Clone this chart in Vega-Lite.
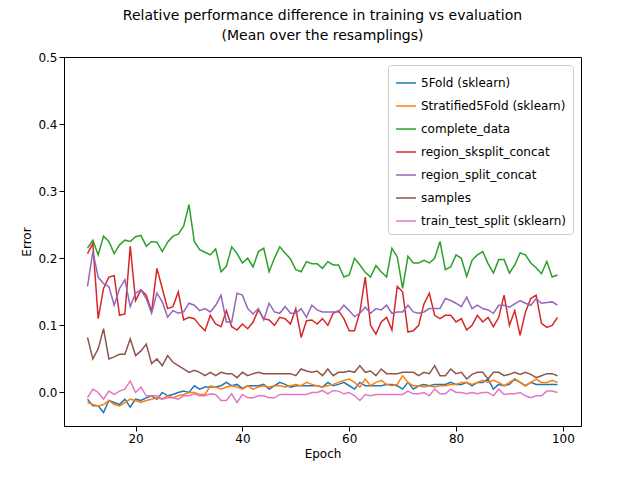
{
  "$schema": "https://vega.github.io/schema/vega-lite/v6.json",
  "width": 517, "height": 369,
  "padding": {"left": 20, "top": 9, "right": 10, "bottom": 5},
  "config": {"font": "DejaVu Sans", "view": {"stroke": "black"}},
  "title": {"text": ["Relative performance difference in training vs evaluation", "(Mean over the resamplings)"], "fontSize": 14, "fontWeight": "normal", "color": "black", "offset": 8, "lineHeight": 20},
  "data": {"values": [
{"e":11,"a":-0.01,"b":-0.015,"c":0.215,"d":0.207,"p":0.158,"s":0.082,"t":-0.008},
{"e":12,"a":-0.02,"b":-0.018,"c":0.227,"d":0.222,"p":0.21,"s":0.05,"t":0.005},
{"e":13,"a":-0.02,"b":-0.02,"c":0.205,"d":0.11,"p":0.172,"s":0.065,"t":0},
{"e":14,"a":-0.03,"b":-0.018,"c":0.233,"d":0.155,"p":0.162,"s":0.095,"t":-0.01},
{"e":15,"a":-0.012,"b":-0.012,"c":0.225,"d":0.172,"p":0.158,"s":0.05,"t":0.002},
{"e":16,"a":-0.015,"b":-0.018,"c":0.207,"d":0.174,"p":0.13,"s":0.053,"t":-0.003},
{"e":17,"a":-0.018,"b":-0.02,"c":0.22,"d":0.115,"p":0.155,"s":0.057,"t":0.002},
{"e":18,"a":-0.01,"b":-0.015,"c":0.227,"d":0.117,"p":0.168,"s":0.057,"t":0.005},
{"e":19,"a":-0.022,"b":-0.01,"c":0.225,"d":0.218,"p":0.128,"s":0.08,"t":0.017},
{"e":20,"a":-0.01,"b":-0.012,"c":0.232,"d":0.137,"p":0.148,"s":0.055,"t":0},
{"e":21,"a":-0.012,"b":-0.015,"c":0.234,"d":0.153,"p":0.153,"s":0.062,"t":0.008},
{"e":22,"a":-0.008,"b":-0.012,"c":0.218,"d":0.145,"p":0.14,"s":0.072,"t":-0.005},
{"e":23,"a":-0.005,"b":-0.01,"c":0.225,"d":0.12,"p":0.118,"s":0.043,"t":-0.005},
{"e":24,"a":-0.01,"b":-0.008,"c":0.224,"d":0.185,"p":0.148,"s":0.05,"t":-0.005},
{"e":25,"a":0,"b":-0.01,"c":0.21,"d":0.155,"p":0.135,"s":0.04,"t":-0.01},
{"e":26,"a":-0.005,"b":-0.005,"c":0.224,"d":0.125,"p":0.112,"s":0.055,"t":-0.008},
{"e":27,"a":-0.003,"b":-0.008,"c":0.233,"d":0.128,"p":0.122,"s":0.045,"t":-0.008},
{"e":28,"a":0,"b":-0.005,"c":0.236,"d":0.15,"p":0.118,"s":0.04,"t":-0.01},
{"e":29,"a":0.002,"b":-0.003,"c":0.248,"d":0.108,"p":0.12,"s":0.035,"t":-0.005},
{"e":30,"a":0,"b":0,"c":0.28,"d":0.112,"p":0.133,"s":0.03,"t":-0.005},
{"e":31,"a":0.01,"b":0,"c":0.225,"d":0.11,"p":0.13,"s":0.033,"t":-0.002},
{"e":32,"a":0.005,"b":-0.003,"c":0.213,"d":0.1,"p":0.122,"s":0.03,"t":-0.005},
{"e":33,"a":0.008,"b":-0.003,"c":0.209,"d":0.092,"p":0.125,"s":0.025,"t":-0.005},
{"e":34,"a":0.008,"b":0.01,"c":0.205,"d":0.115,"p":0.12,"s":0.03,"t":-0.002},
{"e":35,"a":0.008,"b":0.008,"c":0.214,"d":0.102,"p":0.13,"s":0.025,"t":-0.003},
{"e":36,"a":0.01,"b":0.005,"c":0.18,"d":0.098,"p":0.145,"s":0.03,"t":-0.012},
{"e":37,"a":0.015,"b":0.008,"c":0.188,"d":0.122,"p":0.105,"s":0.028,"t":-0.012},
{"e":38,"a":0.01,"b":0.01,"c":0.217,"d":0.098,"p":0.105,"s":0.028,"t":-0.002},
{"e":39,"a":0.012,"b":0.008,"c":0.207,"d":0.093,"p":0.148,"s":0.022,"t":-0.015},
{"e":40,"a":0.006,"b":0.005,"c":0.193,"d":0.102,"p":0.145,"s":0.03,"t":-0.003},
{"e":41,"a":0.01,"b":0.01,"c":0.2,"d":0.095,"p":0.125,"s":0.025,"t":-0.008},
{"e":42,"a":0.01,"b":0.005,"c":0.187,"d":0.105,"p":0.117,"s":0.028,"t":-0.008},
{"e":43,"a":0.01,"b":0.008,"c":0.21,"d":0.123,"p":0.125,"s":0.03,"t":-0.005},
{"e":44,"a":0.012,"b":0.01,"c":0.215,"d":0.11,"p":0.108,"s":0.028,"t":-0.005},
{"e":45,"a":0.005,"b":0.008,"c":0.18,"d":0.108,"p":0.133,"s":0.028,"t":-0.008},
{"e":46,"a":0.01,"b":0.01,"c":0.2,"d":0.1,"p":0.12,"s":0.028,"t":-0.008},
{"e":47,"a":0.015,"b":0.01,"c":0.217,"d":0.112,"p":0.118,"s":0.028,"t":-0.003},
{"e":48,"a":0.012,"b":0.008,"c":0.208,"d":0.11,"p":0.128,"s":0.028,"t":-0.003},
{"e":49,"a":0.008,"b":0.01,"c":0.199,"d":0.102,"p":0.118,"s":0.028,"t":-0.003},
{"e":50,"a":0.01,"b":0.012,"c":0.183,"d":0.125,"p":0.118,"s":0.025,"t":-0.003},
{"e":51,"a":0.01,"b":0.01,"c":0.18,"d":0.082,"p":0.125,"s":0.035,"t":-0.003},
{"e":52,"a":0.01,"b":0.015,"c":0.195,"d":0.107,"p":0.112,"s":0.032,"t":-0.003},
{"e":53,"a":0.01,"b":0.012,"c":0.192,"d":0.108,"p":0.13,"s":0.03,"t":0},
{"e":54,"a":0.01,"b":0.01,"c":0.192,"d":0.102,"p":0.123,"s":0.032,"t":0},
{"e":55,"a":0.008,"b":0.008,"c":0.185,"d":0.11,"p":0.12,"s":0.025,"t":0.003},
{"e":56,"a":0.015,"b":0.01,"c":0.195,"d":0.1,"p":0.12,"s":0.035,"t":-0.002},
{"e":57,"a":0.01,"b":0.012,"c":0.19,"d":0.118,"p":0.12,"s":0.025,"t":0.003},
{"e":58,"a":0.012,"b":0.015,"c":0.19,"d":0.122,"p":0.12,"s":0.03,"t":0.002},
{"e":59,"a":0.015,"b":0.018,"c":0.172,"d":0.11,"p":0.13,"s":0.03,"t":-0.002},
{"e":60,"a":0.01,"b":0.02,"c":0.175,"d":0.092,"p":0.122,"s":0.032,"t":0},
{"e":61,"a":0.005,"b":0.015,"c":0.2,"d":0.092,"p":0.113,"s":0.03,"t":-0.005},
{"e":62,"a":0.015,"b":0.008,"c":0.19,"d":0.12,"p":0.118,"s":0.04,"t":-0.012},
{"e":63,"a":0.01,"b":0.02,"c":0.179,"d":0.172,"p":0.127,"s":0.03,"t":-0.003},
{"e":64,"a":0.01,"b":0.01,"c":0.172,"d":0.1,"p":0.118,"s":0.032,"t":-0.005},
{"e":65,"a":0.01,"b":0.015,"c":0.189,"d":0.087,"p":0.125,"s":0.025,"t":-0.003},
{"e":66,"a":0.01,"b":0.018,"c":0.18,"d":0.105,"p":0.123,"s":0.035,"t":-0.003},
{"e":67,"a":0.012,"b":0.012,"c":0.172,"d":0.112,"p":0.13,"s":0.028,"t":-0.003},
{"e":68,"a":0.012,"b":0.01,"c":0.215,"d":0.093,"p":0.118,"s":0.028,"t":-0.003},
{"e":69,"a":0.01,"b":0.012,"c":0.202,"d":0.158,"p":0.12,"s":0.028,"t":-0.003},
{"e":70,"a":0.005,"b":0.025,"c":0.155,"d":0.15,"p":0.12,"s":0.03,"t":-0.003},
{"e":71,"a":0.015,"b":0.015,"c":0.203,"d":0.09,"p":0.13,"s":0.03,"t":0.002},
{"e":72,"a":0.005,"b":0.01,"c":0.193,"d":0.092,"p":0.12,"s":0.03,"t":-0.002},
{"e":73,"a":0.01,"b":0.01,"c":0.193,"d":0.1,"p":0.118,"s":0.025,"t":-0.002},
{"e":74,"a":0.012,"b":0.008,"c":0.197,"d":0.132,"p":0.12,"s":0.03,"t":0},
{"e":75,"a":0.01,"b":0.01,"c":0.193,"d":0.148,"p":0.125,"s":0.028,"t":-0.005},
{"e":76,"a":0.012,"b":0.008,"c":0.2,"d":0.115,"p":0.125,"s":0.04,"t":0.005},
{"e":77,"a":0.012,"b":0.01,"c":0.225,"d":0.11,"p":0.125,"s":0.025,"t":-0.002},
{"e":78,"a":0.012,"b":0.01,"c":0.183,"d":0.115,"p":0.14,"s":0.025,"t":-0.002},
{"e":79,"a":0.015,"b":0.012,"c":0.187,"d":0.115,"p":0.137,"s":0.035,"t":0.005},
{"e":80,"a":0.012,"b":0.012,"c":0.205,"d":0.105,"p":0.133,"s":0.028,"t":0},
{"e":81,"a":0.012,"b":0.015,"c":0.2,"d":0.11,"p":0.128,"s":0.03,"t":0},
{"e":82,"a":0.015,"b":0.015,"c":0.173,"d":0.093,"p":0.142,"s":0.02,"t":-0.002},
{"e":83,"a":0.01,"b":0.012,"c":0.197,"d":0.1,"p":0.125,"s":0.027,"t":0},
{"e":84,"a":0.015,"b":0.015,"c":0.205,"d":0.115,"p":0.13,"s":0.03,"t":-0.002},
{"e":85,"a":0.015,"b":0.018,"c":0.21,"d":0.105,"p":0.125,"s":0.03,"t":0},
{"e":86,"a":0.02,"b":0.015,"c":0.192,"d":0.112,"p":0.123,"s":0.02,"t":0},
{"e":87,"a":0.005,"b":0.018,"c":0.178,"d":0.098,"p":0.118,"s":0.03,"t":-0.005},
{"e":88,"a":0.012,"b":0.015,"c":0.198,"d":0.112,"p":0.13,"s":0.03,"t":0.005},
{"e":89,"a":0.01,"b":0.01,"c":0.198,"d":0.145,"p":0.13,"s":0.025,"t":-0.003},
{"e":90,"a":0.012,"b":0.015,"c":0.178,"d":0.1,"p":0.127,"s":0.027,"t":-0.002},
{"e":91,"a":0.02,"b":0.02,"c":0.19,"d":0.122,"p":0.132,"s":0.03,"t":-0.002},
{"e":92,"a":0.015,"b":0.015,"c":0.208,"d":0.085,"p":0.137,"s":0.027,"t":0},
{"e":93,"a":0.01,"b":0.01,"c":0.205,"d":0.12,"p":0.133,"s":0.03,"t":-0.005},
{"e":94,"a":0.015,"b":0.015,"c":0.193,"d":0.14,"p":0.13,"s":0.027,"t":-0.008},
{"e":95,"a":0.012,"b":0.02,"c":0.186,"d":0.145,"p":0.14,"s":0.022,"t":-0.005},
{"e":96,"a":0.012,"b":0.015,"c":0.177,"d":0.103,"p":0.133,"s":0.025,"t":-0.005},
{"e":97,"a":0.012,"b":0.015,"c":0.195,"d":0.097,"p":0.134,"s":0.028,"t":0.002},
{"e":98,"a":0.012,"b":0.018,"c":0.172,"d":0.1,"p":0.135,"s":0.028,"t":0.002},
{"e":99,"a":0.012,"b":0.015,"c":0.175,"d":0.112,"p":0.13,"s":0.025,"t":0}
  ]},
  "transform": [{"fold": ["a", "b", "c", "d", "p", "s", "t"], "as": ["series", "value"]}],
  "mark": {"type": "line", "strokeWidth": 1.5},
  "encoding": {
    "x": {"field": "e", "type": "quantitative", "title": "Epoch",
      "scale": {"domain": [6.6, 103.4], "nice": false, "zero": false},
      "axis": {"values": [20, 40, 60, 80, 100], "grid": false, "labelFontSize": 12, "titleFontSize": 12, "titleFontWeight": "normal", "labelColor": "black", "titleColor": "black", "domainColor": "black", "tickColor": "black", "labelFlush": false}},
    "y": {"field": "value", "type": "quantitative", "title": "Error",
      "scale": {"domain": [-0.05, 0.5], "nice": false},
      "axis": {"values": [0, 0.1, 0.2, 0.3, 0.4, 0.5], "format": ".1f", "grid": false, "labelFontSize": 12, "titleFontSize": 12, "titleFontWeight": "normal", "labelColor": "black", "titleColor": "black", "domainColor": "black", "tickColor": "black", "labelFlush": false}},
    "color": {"field": "series", "type": "nominal",
      "scale": {"domain": ["a", "b", "c", "d", "p", "s", "t"], "range": ["#1f77b4", "#ff7f0e", "#2ca02c", "#d62728", "#9467bd", "#8c564b", "#e377c2"]},
      "legend": {"title": null, "orient": "top-right", "offset": 8, "symbolType": "stroke", "symbolStrokeWidth": 1.5, "symbolSize": 400, "labelFontSize": 12, "labelColor": "black", "rowPadding": 6, "strokeColor": "#cccccc", "fillColor": "white", "padding": 7, "cornerRadius": 3,
        "labelExpr": "{'a':'5Fold (sklearn)','b':'Stratified5Fold (sklearn)','c':'complete_data','d':'region_sksplit_concat','p':'region_split_concat','s':'samples','t':'train_test_split (sklearn)'}[datum.value]"}}
  }
}
